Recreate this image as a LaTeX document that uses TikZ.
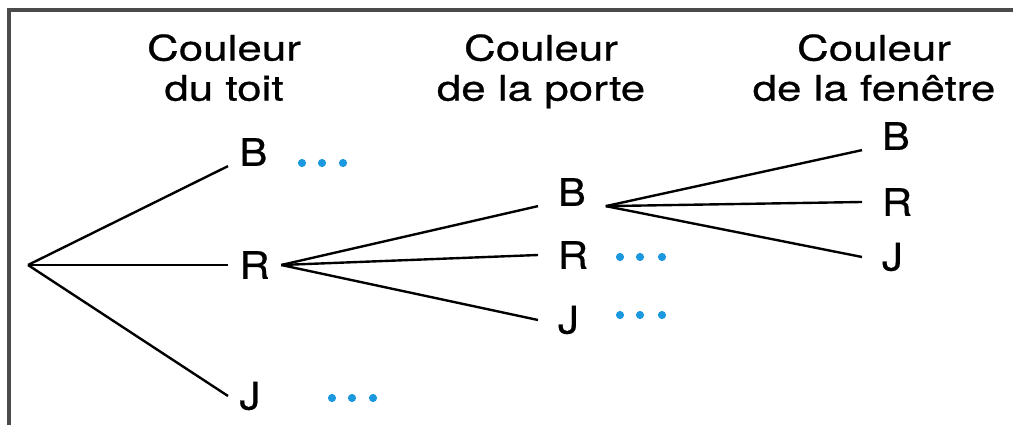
\documentclass[tikz,border=0pt]{standalone}
\usepackage{fontspec}
\usepackage{xcolor}
\usetikzlibrary{positioning}
\newfontfamily\hdrfont[FakeStretch=1.25, FakeBold=0.7]{TeX Gyre Heros}
\newfontfamily\lblfont[FakeStretch=1.1, FakeBold=0.6]{TeX Gyre Heros}
\definecolor{dotblue}{RGB}{28,152,222}
\definecolor{framegray}{RGB}{75,75,75}

\begin{document}
\begin{tikzpicture}[x=0.025cm, y=-0.025cm,
    title/.style={align=center, anchor=north, inner sep=0pt, font=\hdrfont\fontsize{25}{28.5}\selectfont},
    choice/.style={anchor=west, inner ysep=0pt, inner xsep=14pt, font=\lblfont\fontsize{27}{30}\selectfont},
    first/.style={choice, inner xsep=8pt},
    branch/.style={line width=1.7pt}]
    \useasboundingbox (0,0) rectangle (1013,425);
    \draw[framegray, line width=2.2pt] (9,425) -- (9,10) -- (1013,10);

    % column titles
    \node (toit) [title] at (224,34) {Couleur\\du toit};
    \node (porte) [title] at (541,34) {Couleur\\de la porte};
    \node (fenetre) [title] at (874,34) {Couleur\\de la fenêtre};

    % tree
    \coordinate (root) at (28,265);
    \node (tB) [first] at (228,152) {B};
    \node (tR) [first] at (228,265) {R};
    \node (tJ) [first] at (228,396) {J};
    \node (pB) [choice] at (538,192) {B};
    \node (pR) [choice] at (538,255) {R};
    \node (pJ) [choice] at (538,320) {J};
    \node (fB) [choice] at (862,136) {B};
    \node (fR) [choice] at (862,202) {R};
    \node (fJ) [choice] at (862,257) {J};

    \draw[branch] (root) -- (tB.south west);
    \draw[branch] (root) -- (tR.west);
    \draw[branch] (root) -- (tJ.west);
    \draw[branch] (tR.east) -- (pB.south west);
    \draw[branch] (tR.east) -- (pR.west);
    \draw[branch] (tR.east) -- (pJ.west);
    \draw[branch] (pB.south east) -- (fB.south west);
    \draw[branch] (pB.south east) -- (fR.west);
    \draw[branch] (pB.south east) -- (fJ.west);

    % dots
    \foreach \x in {302,322,343} \fill[dotblue] (\x,163) circle[radius=2.9pt];
    \foreach \x in {332,352,373} \fill[dotblue] (\x,398) circle[radius=2.9pt];
    \foreach \x in {620,640,662} {
        \fill[dotblue] (\x,257) circle[radius=2.9pt];
        \fill[dotblue] (\x,315) circle[radius=2.9pt];
    }
\end{tikzpicture}
\end{document}
